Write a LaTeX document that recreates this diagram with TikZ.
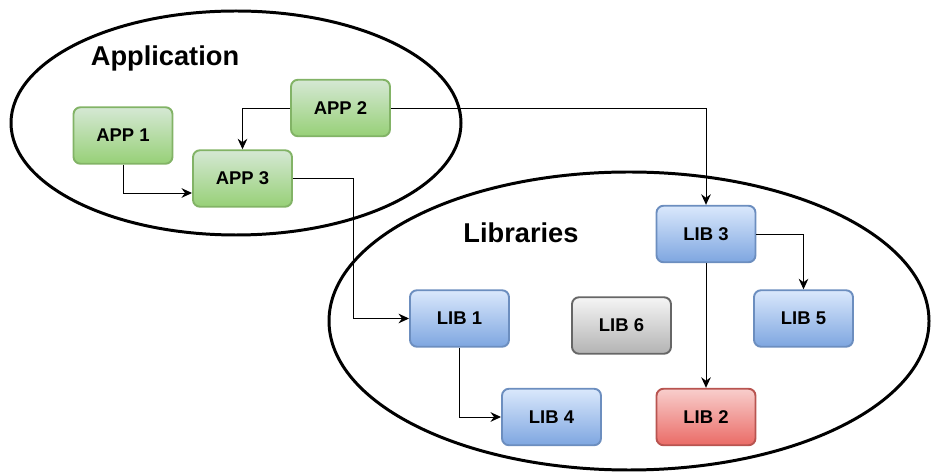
\documentclass[tikz,border=0pt]{standalone}
\usepackage{fontspec}
\setmainfont{Liberation Sans}
\usetikzlibrary{calc, positioning, arrows.meta, shapes}

\definecolor{grnTop}{HTML}{D5E8D4}
\definecolor{grnBot}{HTML}{97D077}
\definecolor{grnLine}{HTML}{82B366}
\definecolor{bluTop}{HTML}{DAE8FC}
\definecolor{bluBot}{HTML}{7EA6E0}
\definecolor{bluLine}{HTML}{6C8EBF}
\definecolor{gryTop}{HTML}{F5F5F5}
\definecolor{gryBot}{HTML}{B3B3B3}
\definecolor{gryLine}{HTML}{666666}
\definecolor{redTop}{HTML}{F8CECC}
\definecolor{redBot}{HTML}{EA6B66}
\definecolor{redLine}{HTML}{B85450}

\begin{document}
\begin{tikzpicture}[box/.style={rounded corners=0.14cm, line width=1.1pt, minimum width=1.98cm, minimum height=1.13cm, font=\fontsize{10.5}{12}\selectfont\bfseries},
  appbox/.style={box, draw=grnLine, top color=grnTop, bottom color=grnBot},
  libbox/.style={box, draw=bluLine, top color=bluTop, bottom color=bluBot},
  deadbox/.style={box, draw=gryLine, top color=gryTop, bottom color=gryBot},
  badbox/.style={box, draw=redLine, top color=redTop, bottom color=redBot},
  group/.style={draw, line width=1.7pt},
  title/.style={font=\fontsize{15.5}{18}\selectfont\bfseries},
  dep/.style={-{Stealth[length=6pt, width=5.5pt, inset=2pt]}, line width=0.55pt}]
  \useasboundingbox (0,0) rectangle (18.62,-9.48);

  % the two groups
  \path[group] (4.72,-2.46) ellipse [x radius=4.5cm, y radius=2.24cm];
  \path[group] (12.58,-6.42) ellipse [x radius=6.0cm, y radius=2.98cm];
  \node[title] (apptitle) at (3.3,-1.16) {Application};
  \node[title] (libtitle) at (10.42,-4.66) {Libraries};

  \node[appbox] (app1) at (2.46,-2.71) {APP 1};
  \node[appbox] (app2) at (6.81,-2.16) {APP 2};
  \node[appbox] (app3) at (4.85,-3.57) {APP 3};

  \node[libbox] (lib1) at (9.19,-6.37) {LIB 1};
  \node[libbox] (lib3) at (14.12,-4.68) {LIB 3};
  \node[libbox] (lib5) at (16.07,-6.37) {LIB 5};
  \node[deadbox] (lib6) at (12.43,-6.51) {LIB 6};
  \node[libbox] (lib4) at (11.03,-8.34) {LIB 4};
  \node[badbox] (lib2) at (14.12,-8.34) {LIB 2};

  \draw[dep] (app1.south) |- ($(app3.west)+(0,-0.29)$);
  \draw[dep] (app2.west) -| (app3.north);
  \draw[dep] (app2.east) -| (lib3.north);
  \draw[dep] (app3.east) -- ++(1.22,0) |- (lib1.west);
  \draw[dep] (lib1.south) |- (lib4.west);
  \draw[dep] (lib3.east) -| (lib5.north);
  \draw[dep] (lib3.south) -- (lib2.north);
\end{tikzpicture}
\end{document}
